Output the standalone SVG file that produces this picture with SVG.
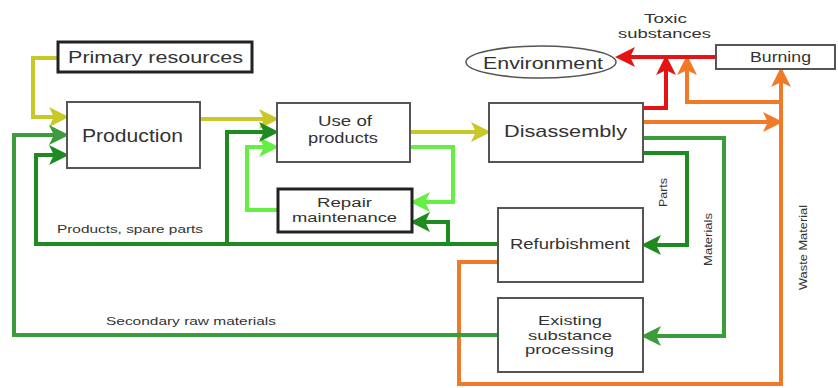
<svg xmlns="http://www.w3.org/2000/svg" width="838" height="388" viewBox="0 0 838 388">
  <style>
    .box { fill: #ffffff; stroke: #555555; stroke-width: 2; }
    .bold { fill: #ffffff; stroke: #222222; stroke-width: 3; }
    text { font-family: "Liberation Sans", Arial, sans-serif; fill: #333333; text-anchor: middle; }
    .lbl { font-size: 11px; }
    .ln { fill: none; stroke-width: 4; stroke-linejoin: miter; }
    .yel { stroke: #c8c828; }
    .mid { stroke: #3c9c3c; }
    .dark { stroke: #1f8a1f; }
    .lite { stroke: #66ee44; }
    .red { stroke: #e41414; }
    .org { stroke: #f07a28; }
  </style>
  <defs>
    <marker id="aY" markerWidth="5" markerHeight="5" refX="4" refY="2.5" orient="auto" markerUnits="strokeWidth"><path d="M0,0 L5,2.5 L0,5 L1.2,2.5 Z" fill="#c8c828"/></marker>
    <marker id="aM" markerWidth="5" markerHeight="5" refX="4" refY="2.5" orient="auto" markerUnits="strokeWidth"><path d="M0,0 L5,2.5 L0,5 L1.2,2.5 Z" fill="#3c9c3c"/></marker>
    <marker id="aD" markerWidth="5" markerHeight="5" refX="4" refY="2.5" orient="auto" markerUnits="strokeWidth"><path d="M0,0 L5,2.5 L0,5 L1.2,2.5 Z" fill="#1f8a1f"/></marker>
    <marker id="aL" markerWidth="5" markerHeight="5" refX="4" refY="2.5" orient="auto" markerUnits="strokeWidth"><path d="M0,0 L5,2.5 L0,5 L1.2,2.5 Z" fill="#66ee44"/></marker>
    <marker id="aR" markerWidth="5" markerHeight="5" refX="4" refY="2.5" orient="auto" markerUnits="strokeWidth"><path d="M0,0 L5,2.5 L0,5 L1.2,2.5 Z" fill="#e41414"/></marker>
    <marker id="aO" markerWidth="5" markerHeight="5" refX="4" refY="2.5" orient="auto" markerUnits="strokeWidth"><path d="M0,0 L5,2.5 L0,5 L1.2,2.5 Z" fill="#f07a28"/></marker>
  </defs>

  <!-- connectors -->
  <g id="connectors">
    <!-- material supply into production and use -->
    <path class="ln yel" d="M58,58 H33 V117 H65" marker-end="url(#aY)"/>
    <path class="ln yel" d="M200,119 H275" marker-end="url(#aY)"/>
    <path class="ln yel" d="M410,132 H487" marker-end="url(#aY)"/>
    <!-- repair loop -->
    <path class="ln lite" d="M410,147 H453 V202 H414" marker-end="url(#aL)"/>
    <path class="ln lite" d="M278,210 H247 V147 H275" marker-end="url(#aL)"/>
    <!-- products, spare parts -->
    <path class="ln dark" d="M498,244 H36 V155 H65" marker-end="url(#aD)"/>
    <path class="ln dark" d="M227,244 V132 H275" marker-end="url(#aD)"/>
    <path class="ln dark" d="M448,244 V222 H414" marker-end="url(#aD)"/>
    <!-- parts to refurbishment -->
    <path class="ln dark" d="M643,153 H687 V245 H645" marker-end="url(#aD)"/>
    <!-- materials to substance processing -->
    <path class="ln mid" d="M643,138 H724 V336 H645" marker-end="url(#aM)"/>
    <!-- secondary raw materials -->
    <path class="ln mid" d="M498,335 H14 V135 H65" marker-end="url(#aM)"/>
    <!-- waste routes -->
    <path class="ln org" d="M498,262 H459 V384 H781 V71" marker-end="url(#aO)"/>
    <path class="ln org" d="M643,122 H779" marker-end="url(#aO)"/>
    <path class="ln org" d="M781,102 H687 V59" marker-end="url(#aO)"/>
    <!-- toxic substances -->
    <path class="ln red" d="M643,108 H666 V59" marker-end="url(#aR)"/>
    <path class="ln red" d="M716,57 H619" marker-end="url(#aR)"/>
    <circle cx="459" cy="335" r="2.5" fill="#3c9c3c"/>
  </g>

  <!-- nodes -->
  <g id="primary-resources">
    <rect class="bold" x="58" y="42" width="194" height="30"/>
    <text x="155.5" y="63" font-size="17" textLength="175" lengthAdjust="spacingAndGlyphs">Primary resources</text>
  </g>
  <g id="production">
    <rect class="box" x="67" y="102" width="133" height="66"/>
    <text x="132.5" y="142" font-size="18" textLength="101" lengthAdjust="spacingAndGlyphs">Production</text>
  </g>
  <g id="use-of-products">
    <rect class="box" x="277" y="103" width="133" height="59"/>
    <text x="345" y="126" font-size="14" textLength="54" lengthAdjust="spacingAndGlyphs">Use of</text>
    <text x="343" y="143" font-size="14" textLength="70" lengthAdjust="spacingAndGlyphs">products</text>
  </g>
  <g id="repair-maintenance">
    <rect class="bold" x="278" y="189" width="134" height="43"/>
    <text x="344.5" y="207" font-size="12.5" textLength="55" lengthAdjust="spacingAndGlyphs">Repair</text>
    <text x="344.5" y="222" font-size="12.5" textLength="105" lengthAdjust="spacingAndGlyphs">maintenance</text>
  </g>
  <g id="disassembly">
    <rect class="box" x="489" y="103" width="154" height="59"/>
    <text x="565.5" y="137" font-size="17" textLength="123" lengthAdjust="spacingAndGlyphs">Disassembly</text>
  </g>
  <g id="environment">
    <ellipse cx="541" cy="62" rx="75" ry="16" fill="#ffffff" stroke="#555555" stroke-width="1.5"/>
    <text x="543" y="69" font-size="16" textLength="120" lengthAdjust="spacingAndGlyphs">Environment</text>
  </g>
  <g id="burning">
    <rect class="box" x="716" y="45" width="119" height="24"/>
    <text x="780.5" y="62" font-size="14" textLength="61" lengthAdjust="spacingAndGlyphs">Burning</text>
  </g>
  <g id="refurbishment">
    <rect class="box" x="498" y="208" width="145" height="74"/>
    <text x="570" y="249" font-size="15" textLength="120" lengthAdjust="spacingAndGlyphs">Refurbishment</text>
  </g>
  <g id="existing-substance-processing">
    <rect class="box" x="498" y="298" width="145" height="74"/>
    <text x="570" y="325" font-size="13" textLength="64" lengthAdjust="spacingAndGlyphs">Existing</text>
    <text x="570" y="339.5" font-size="13" textLength="84" lengthAdjust="spacingAndGlyphs">substance</text>
    <text x="569.5" y="354" font-size="13" textLength="89" lengthAdjust="spacingAndGlyphs">processing</text>
  </g>

  <!-- connector labels -->
  <g id="labels">
    <text x="665.5" y="23" font-size="12" textLength="43" lengthAdjust="spacingAndGlyphs">Toxic</text>
    <text x="664.5" y="38" font-size="12" textLength="93" lengthAdjust="spacingAndGlyphs">substances</text>
    <text class="lbl" x="130" y="233" textLength="146" lengthAdjust="spacingAndGlyphs">Products, spare parts</text>
    <text class="lbl" x="191" y="325" textLength="170" lengthAdjust="spacingAndGlyphs">Secondary raw materials</text>
    <text class="lbl" transform="translate(667,192.5) rotate(-90)" font-size="12" textLength="29" lengthAdjust="spacingAndGlyphs">Parts</text>
    <text class="lbl" transform="translate(712,239.5) rotate(-90)" font-size="12" textLength="53" lengthAdjust="spacingAndGlyphs">Materials</text>
    <text class="lbl" transform="translate(807,247.5) rotate(-90)" font-size="12" textLength="85" lengthAdjust="spacingAndGlyphs">Waste Material</text>
  </g>
</svg>
